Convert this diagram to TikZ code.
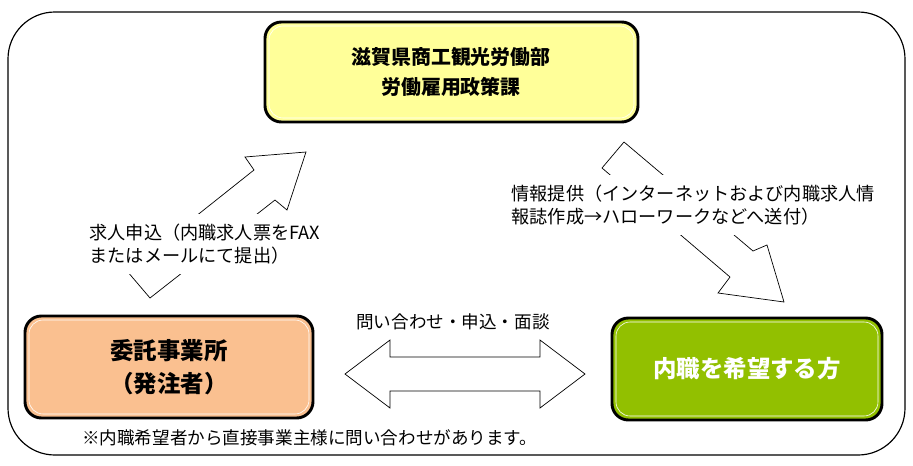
\documentclass[tikz,border=0pt]{standalone}
\usepackage{fontspec}
\setmainfont{Noto Sans CJK JP}
\definecolor{deptyellow}{HTML}{FFFF99}
\definecolor{firmorange}{HTML}{FAC090}
\definecolor{workgreen}{HTML}{92C000}
\begin{document}
\begin{tikzpicture}[x=0.03cm,y=-0.03cm,
  lbl/.style={fill=white,inner xsep=2pt,inner ysep=9pt,align=left,font=\fontsize{15.5}{19}\selectfont},
  blk/.style={draw,fill=white,line width=0.6pt}]
\useasboundingbox (0,0) rectangle (913,465);
\draw [line width=1pt, rounded corners=40pt] (8,12) rectangle (905,455);

% boxes
\draw [fill=deptyellow, line width=2.5pt, rounded corners=14pt] (265,22) rectangle (638,122);
\draw [draw=white, line width=0.5pt, rounded corners=12pt] (269,26) rectangle (634,118);
\node (dept) at (451,72) [align=center, font=\fontsize{17}{26}\selectfont\bfseries] {滋賀県商工観光労働部\\労働雇用政策課};

\draw [fill=firmorange, line width=2.5pt, rounded corners=14pt] (25,316) rectangle (313,418);
\draw [draw=white, line width=0.5pt, rounded corners=12pt] (29,320) rectangle (309,414);
\node (firm) at (169,367) [align=center, font=\fontsize{20}{28}\selectfont\bfseries] {委託事業所\\（発注者）};

\draw [fill=workgreen, line width=2.5pt, rounded corners=14pt] (612,318) rectangle (882,420);
\draw [draw=white, line width=0.5pt, rounded corners=12pt] (616,322) rectangle (878,416);
\node (worker) at (747,369) [white, font=\fontsize{20}{24}\selectfont\bfseries] {内職を希望する方};

% block arrows
\draw [blk] (150,298) -- (275,200) -- (287,210) -- (306,152) -- (245,157) -- (254,170) -- (127,271) -- cycle;
\draw [blk] (624,142) -- (753,251) -- (767,245) -- (784,302) -- (718,293) -- (730,277) -- (602,168) -- cycle;
\draw [blk] (345,374) -- (390,340) -- (390,357) -- (540,357) -- (540,340) -- (585,374)
  -- (540,408) -- (540,391) -- (390,391) -- (390,408) -- cycle;

% labels
\node (req) at (87,244) [lbl, anchor=west] {求人申込（内職求人票をFAX\\またはメールにて提出）};
\node (info) at (509,205) [lbl, anchor=west] {情報提供（インターネットおよび内職求人情\\報誌作成→ハローワークなどへ送付）};
\node (talk) at (453,322) [font=\fontsize{15}{18}\selectfont] {問い合わせ・申込・面談};
\node (note) at (78,438) [anchor=west, font=\fontsize{15}{18}\selectfont] {※内職希望者から直接事業主様に問い合わせがあります。};
\end{tikzpicture}
\end{document}
